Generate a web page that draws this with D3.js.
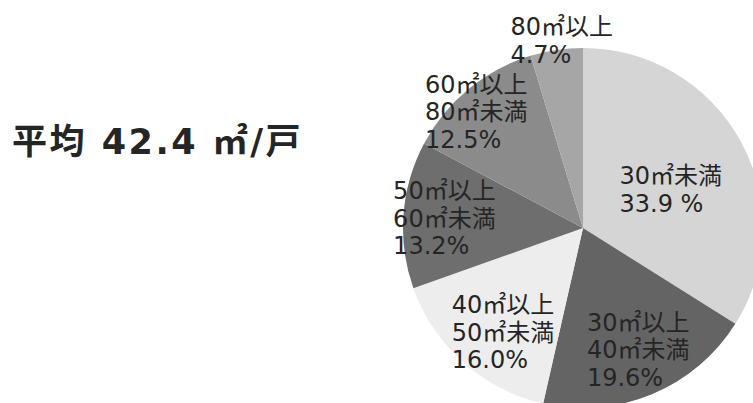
<!DOCTYPE html>
<html>
<head>
<meta charset="utf-8">
<script src="https://cdn.jsdelivr.net/npm/d3@7"></script>
<style>
  html, body { margin: 0; padding: 0; background: #fff; }
  svg { display: block; }
  text { font-family: "DejaVu Sans", "Noto Sans CJK JP", sans-serif; fill: #252525; }
</style>
</head>
<body>
<svg id="chart" width="753" height="403"></svg>
<script>
// Floor-area bands of dwelling units (share of total, %)
const categories = ["30㎡未満", "30㎡以上\n40㎡未満", "40㎡以上\n50㎡未満", "50㎡以上\n60㎡未満", "60㎡以上\n80㎡未満", "80㎡以上"];
const shares = [33.9, 19.6, 16.0, 13.2, 12.5, 4.7];
const shareLabels = ["33.9 %", "19.6%", "16.0%", "13.2%", "12.5%", "4.7%"];
const averageArea = 42.4;

const svg = d3.select("#chart");

// Headline average
svg.append("text")
  .attr("x", 12)
  .attr("y", 154)
  .attr("font-size", 35)
  .attr("font-weight", "bold")
  .attr("letter-spacing", 2.5)
  .text(`平均 ${averageArea} ㎡/戸`);

const cx = 583, cy = 228, R = 180;
const fills = ["#d5d5d5", "#646464", "#ededed", "#6e6e6e", "#8b8b8b", "#a6a6a6"];

const pie = d3.pie().sort(null).value(d => d)(shares);
const arc = d3.arc().innerRadius(0).outerRadius(R);

const g = svg.append("g").attr("transform", `translate(${cx},${cy})`);

g.selectAll("path.slice")
  .data(pie)
  .join("path")
  .attr("class", "slice")
  .attr("d", arc)
  .attr("fill", (d, i) => fills[i]);

// Label placement: radius and angular nudge per slice
const labelRadius = [96, 133, 131, 139, 158, 189];
const labelAngleShift = [5, -2, -4, 0, -3, 2];
const lineH = 27.5;
const fontSize = 24;

pie.forEach((d, i) => {
  const mid = (d.startAngle + d.endAngle) / 2 + labelAngleShift[i] * Math.PI / 180;
  const px = Math.sin(mid) * labelRadius[i];
  const py = -Math.cos(mid) * labelRadius[i];
  const lines = categories[i].split("\n").concat([shareLabels[i]]);
  const t = g.append("text")
    .attr("font-size", fontSize);
  lines.forEach((ln, k) => {
    t.append("tspan").attr("x", 0).attr("dy", k === 0 ? 0 : lineH).text(ln);
  });
  // centre the block on its anchor point, using the baseline span of the lines
  const bb = t.node().getBBox();
  const blockTop = -fontSize * 0.75;
  const blockBottom = (lines.length - 1) * lineH;
  const dx = px - (bb.x + bb.width / 2);
  const dy = py - (blockTop + blockBottom) / 2;
  t.attr("transform", `translate(${dx},${dy})`);
});
</script>
</body>
</html>
